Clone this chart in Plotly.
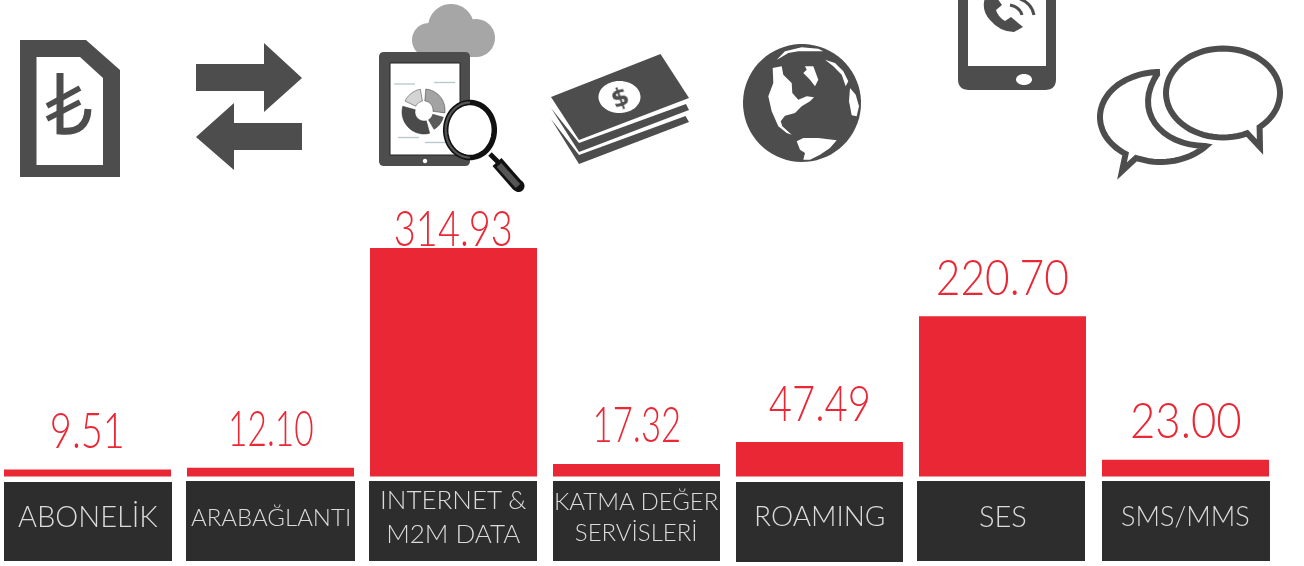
import json
import plotly.graph_objects as go
import numpy as np

categories = ["ABONELİK", "ARABAĞLANTI", "INTERNET &<br>M2M DATA", "KATMA DEĞER<br>SERVİSLERİ", "ROAMING", "SES", "SMS/MMS"]
values = [9.51, 12.10, 314.93, 17.32, 47.49, 220.70, 23.00]
value_labels = ["9.51", "12.10", "314.93", "17.32", "47.49", "220.70", "23.00"]
label_shift = [22, 22, 2, 22, 21, 21, 22]
label_squeeze = [0.76, 0.67, 0.76, 0.695, 0.80, 0.85, 0.875]

RED = "#e92735"
DARK = "#4d4d4d"
BOX = "#2d2d2d"
W, H = 1304, 566
FONT = "Lato"

fig = go.Figure()
fig.add_trace(go.Bar(x=list(range(7)), y=values, width=0.9126, marker=dict(color=RED, line=dict(width=0)),
                     hoverinfo="skip", showlegend=False))

shapes = []
def path(d, fill=DARK, line=None, lw=0):
    shapes.append(dict(type="path", path=d, xref="x2", yref="y2", layer="above",
                       fillcolor=fill if fill else "rgba(0,0,0,0)",
                       line=dict(color=line if line else "rgba(0,0,0,0)", width=lw)))

def poly(*pts):
    return "M" + " L".join(f"{x:.1f},{y:.1f}" for x, y in pts) + " Z"

def arc_pts(cx, cy, rx, ry, a0, a1, n=48):
    t = np.radians(np.linspace(a0, a1, n))
    return [(cx + rx*np.cos(a), cy + ry*np.sin(a)) for a in t]

def seg(pts):
    return " L".join(f"{x:.1f},{y:.1f}" for x, y in pts)

def ell(cx, cy, rx, ry):
    return poly(*arc_pts(cx, cy, rx, ry, 0, 358, 72))

def rrect(x0, y0, x1, y1, r):
    return (f"M{x0+r},{y0} L{x1-r},{y0} Q{x1},{y0} {x1},{y0+r} L{x1},{y1-r} Q{x1},{y1} {x1-r},{y1} "
            f"L{x0+r},{y1} Q{x0},{y1} {x0},{y1-r} L{x0},{y0+r} Q{x0},{y0} {x0+r},{y0} Z")

def sector(cx, cy, r0, r1, a0, a1):
    return poly(*(arc_pts(cx, cy, r1, r1, a0, a1, 24) + arc_pts(cx, cy, r0, r0, a1, a0, 24)))

# label boxes
for x0, y0, x1, y1 in [(4, 482, 172, 561), (186, 481, 355, 561), (369, 481, 537, 561), (553, 481, 720, 561),
                       (736, 482, 903, 562), (917, 481, 1085, 561), (1102, 481, 1270, 561)]:
    path(poly((x0, y0), (x1, y0), (x1, y1), (x0, y1)), fill=BOX)

# SIM
path(poly((20, 40), (86, 40), (120, 70), (120, 177), (20, 177)))
path(poly((36.5, 57), (80, 57), (103, 78), (103, 165), (36.5, 165)), fill="white")
path("M60,73 L60,131 Q87,134 88,109", fill=None, line=DARK, lw=7)
path("M47,106 L80,88", fill=None, line=DARK, lw=5.5)
path("M47,119 L80,102", fill=None, line=DARK, lw=5.5)

# arrows
path(poly((196, 64), (264, 64), (264, 43), (302, 78), (264, 112), (264, 91), (196, 91)))
path(poly((302, 123), (234, 123), (234, 103), (196, 137), (234, 170), (234, 150), (302, 150)))

# cloud + tablet
for c in [(451, 27, 23, 23), (429, 40, 17, 17), (476, 38, 19, 19)]:
    path(ell(*c), fill="#a6a6a6")
path(poly((429, 35), (476, 35), (476, 57), (429, 57)), fill="#a6a6a6")
path(rrect(379, 52, 470, 166, 5))
path(poly((390, 63), (460, 63), (460, 155), (390, 155)), fill="white", line="#222", lw=1)
path(ell(425, 161, 2.2, 2.2), fill="white")
for a, b, c, d in [(394, 84, 415, 84), (434, 82.5, 455, 82.5), (398, 137.5, 419, 137.5), (425, 142.5, 446, 142.5)]:
    path(f"M{a},{b} L{c},{d}", fill=None, line="#b5c9c9", lw=1.3)
path(sector(424, 110, 9, 21, -155, -100), fill="#d4d4d4", line="#333", lw=0.5)
path(sector(424, 110, 9, 21, -85, 8), fill="#a3a3a3", line="#333", lw=0.5)
path(sector(424, 112, 9, 20, 15, 60), fill="#5a5a5a", line="#333", lw=0.5)
path(sector(424, 112, 9, 22, 75, 195), fill="#4a4a4a", line="#333", lw=0.5)
# magnifier
path("M490,154 L498,162", fill=None, line="#111", lw=5)
path("M497,162 L518,186", fill=None, line="#111", lw=12)
path(ell(518.5, 186, 6, 6), fill="#111")
path("M499,165 L518,186", fill=None, line="#555", lw=6)
path(ell(470, 130, 24.3, 27.5), fill="white", line="#111", lw=5.5)
path("M" + seg(arc_pts(470, 130, 24.3, 27.5, 90, 270, 30)), fill=None, line="#555", lw=2.2)

# money
path(poly((551, 119), (579, 155), (685.5, 116), (689, 122), (579, 164)))
path(poly((551, 108), (579, 143), (686, 104), (689, 110), (579, 152)))
path(poly((551, 97), (660.5, 54), (689, 98), (579, 140)))
path(ell(619.5, 97, 21, 16), fill="white")

# globe (land traced at 3x from offset 735,38)
path(ell(802, 103, 59, 59))
def g(*pts):
    return poly(*[(735 + x/3, 38 + y/3) for x, y in pts])
path(g((125, 65), (150, 40), (200, 28), (250, 32), (265, 40), (230, 40), (190, 40), (160, 45), (135, 60)), fill="white")
path(g((270, 65), (300, 75), (325, 100), (340, 130), (332, 145), (320, 110), (295, 85)), fill="white")
path(g((345, 150), (362, 170), (372, 205), (365, 235), (350, 232), (342, 190)), fill="white")
path(g((113, 90), (140, 85), (145, 110), (170, 135), (172, 165), (190, 185), (215, 175), (237, 178), (225, 190),
       (200, 205), (180, 225), (150, 233), (137, 250), (142, 265), (170, 290), (155, 285), (130, 265), (110, 220),
       (100, 175), (115, 135)), fill="white")
path(g((210, 85), (235, 85), (250, 125), (240, 145), (225, 125), (205, 105), (215, 95)), fill="white")
path(g((185, 310), (205, 300), (250, 300), (305, 307), (285, 330), (255, 350), (225, 365), (205, 365), (210, 345),
       (195, 335)), fill="white")

# phone
path(rrect(958, -20, 1056, 90, 11))
path(poly((968, -5), (1046, -5), (1046, 66), (968, 66)), fill="white")
path(ell(1024, 79.5, 8, 5.5), fill="white")
path("M985,-2 Q981,10 990,20 Q1000,32 1014,32 L1023,27 L1011,17 L1005,21 Q998,17 996,10 L1002,5 L997,-2 Z")
path("M1010,5 Q1020,7 1022,15", fill=None, line=DARK, lw=3)
path("M1018,-2 Q1032,3 1034,15", fill=None, line=DARK, lw=3)

# bubbles
path("M" + seg(arc_pts(1160, 117, 60, 45, 270, 125, 50)) + " L1122,171 L1136,158 L"
     + seg(arc_pts(1160, 117, 60, 45, 100, 40, 16)) + " C1160,146 1132,110 1158,73",
     fill="white", line=DARK, lw=6)
right = "M" + seg(arc_pts(1223, 93, 57, 44.5, 50, -295, 70)) + " L1260,147 Z"
path(right, fill="white", line="white", lw=15)
path(right, fill="white", line=DARK, lw=6)

annotations = []
# values
for i, (v, t, dy) in enumerate(zip(values, value_labels, label_shift)):
    annotations.append(dict(x=i, y=v, xref="x", yref="y", text=t, showarrow=False, yanchor="bottom", yshift=dy-13,
                            font=dict(family=FONT, size=50, color=RED, weight=300)))
# categories
label_size = [29, 24, 26, 24, 28, 29, 27]
label_y = [515, 516, 516, 516, 515, 515, 515]
for i, (c, s, y) in enumerate(zip(categories, label_size, label_y)):
    annotations.append(dict(x=i, y=1 - y/H, xref="x", yref="paper", text=c, showarrow=False,
                            font=dict(family=FONT, size=s, color="#dcdcdc", weight=300), yanchor="middle"))
annotations.append(dict(x=619.5, y=97, xref="x2", yref="y2", text="<b>$</b>", showarrow=False, textangle=-20,
                        font=dict(family="DejaVu Sans", size=25, color=DARK)))

px_per_unit = 228.5 / 314.93
base = 476.5
fig.update_layout(
    width=W, height=H, margin=dict(l=0, r=0, t=0, b=0), paper_bgcolor="white", plot_bgcolor="white",
    xaxis=dict(range=[-87.5/183, (W-87.5)/183], visible=False, fixedrange=True),
    yaxis=dict(range=[-(H-base)/px_per_unit, base/px_per_unit], visible=False, fixedrange=True),
    xaxis2=dict(range=[0, W], visible=False, overlaying="x", fixedrange=True),
    yaxis2=dict(range=[H, 0], visible=False, overlaying="y", fixedrange=True),
    shapes=shapes, annotations=annotations, showlegend=False,
)
fig.add_trace(go.Scatter(x=[0], y=[0], xaxis="x2", yaxis="y2", mode="markers", marker=dict(opacity=0),
                         hoverinfo="skip", showlegend=False))
post = """
document.body.style.margin='0';
var sq=%s;
var tx=document.querySelectorAll('.annotation text');
for(var i=0;i<sq.length;i++){tx[i].style.transformBox='fill-box';tx[i].style.transformOrigin='center';tx[i].style.transform='scaleX('+sq[i]+')';}
document.querySelectorAll('.infolayer').forEach(function(e){e.style.opacity='0.999';});
""" % json.dumps(label_squeeze)
fig.write_html("out.html", config={"displayModeBar": False}, default_width=W, default_height=H, post_script=post)
